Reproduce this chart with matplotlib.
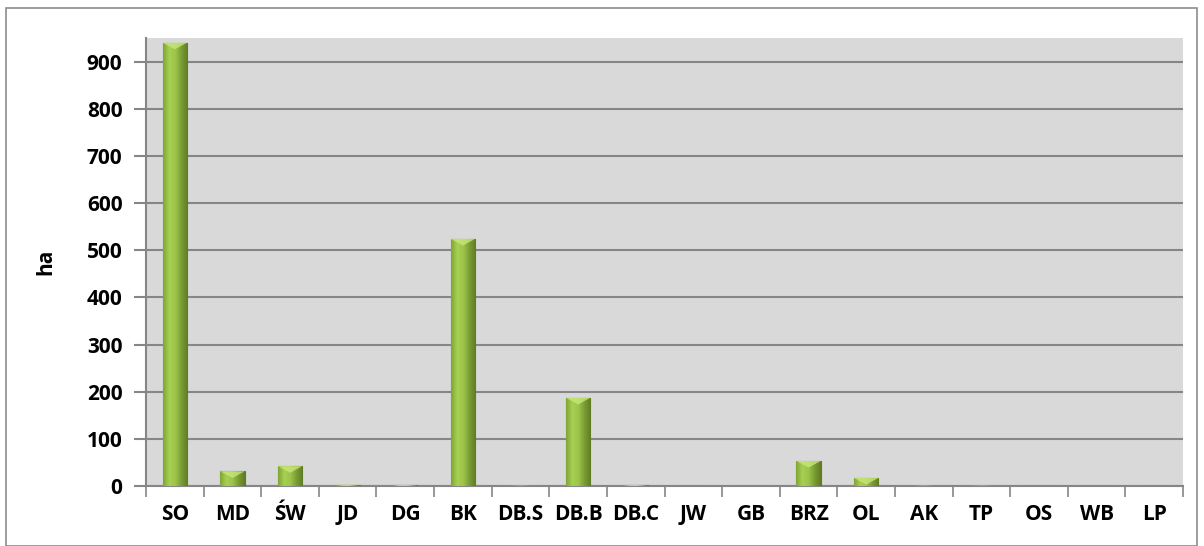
import numpy as np
import matplotlib.pyplot as plt
from matplotlib.colors import LinearSegmentedColormap
from matplotlib.patches import Rectangle

categories = ["SO", "MD", "ŚW", "JD", "DG", "BK", "DB.S", "DB.B", "DB.C",
              "JW", "GB", "BRZ", "OL", "AK", "TP", "OS", "WB", "LP"]
values = [940, 31, 42, 3, 2, 524, 1, 187, 2, 0, 0, 53, 17, 1, 1, 0, 0, 0]
y_ticks = [0, 100, 200, 300, 400, 500, 600, 700, 800, 900]

plt.rcParams['font.family'] = ['Open Sans', 'DejaVu Sans']
plt.rcParams['font.weight'] = 'bold'

fig = plt.figure(figsize=(12.04, 5.46), dpi=100)
fig.patches.append(Rectangle((0.005, 0.0), 0.989, 0.985, transform=fig.transFigure,
                             fill=False, edgecolor='#8c8c8c', linewidth=1.2))
ax = fig.add_axes([0.1213, 0.1099, 0.8613, 0.8205])
ax.set_facecolor('#d9d9d9')

x = np.arange(len(categories))
width = 0.42
bars = ax.bar(x, values, width=width, color='#8db43c', edgecolor='#5e7a26',
              linewidth=0.8, zorder=3)

# horizontal shading across each bar
cmap = LinearSegmentedColormap.from_list(
    'bar', ['#7fa535', '#a8d052', '#9cc44a', '#7a9c33', '#5f7d26'])
grad = np.linspace(0, 1, 64).reshape(1, -1)
for b, v in zip(bars, values):
    if v <= 0:
        continue
    x0 = b.get_x()
    im = ax.imshow(grad, cmap=cmap, aspect='auto', zorder=3.5,
                   extent=(x0, x0 + width, 0, v))
    im.set_clip_path(b)
    # lighter bevel at the top
    tri_h = min(v, 14)
    ax.fill([x0, x0 + width, x0 + width / 2], [v, v, v - tri_h],
            color='#c8e67a', alpha=0.8, zorder=4, linewidth=0)

ax.set_xlim(-0.5, len(categories) - 0.5)
ax.set_ylim(0, 950)
ax.set_yticks(y_ticks)
ax.set_xticks(x)
ax.set_xticklabels(categories)
ax.set_xticks(np.arange(-0.5, len(categories)), minor=True)

ax.yaxis.grid(True, color='#868686', linewidth=1.5, zorder=1)
ax.set_axisbelow(True)
for s in ['top', 'right']:
    ax.spines[s].set_visible(False)
for s in ['left', 'bottom']:
    ax.spines[s].set_color('#868686')
    ax.spines[s].set_linewidth(1.5)

for lbl in ax.get_xticklabels() + ax.get_yticklabels():
    lbl.set_fontweight('bold')
ax.tick_params(axis='y', length=9, width=1.5, color='#868686',
               labelsize=15, pad=8)
ax.tick_params(axis='x', which='major', length=0, labelsize=15, pad=13)
ax.tick_params(axis='x', which='minor', length=8, width=1.2, color='#868686')
ax.set_ylabel('ha', fontsize=15, fontweight='bold', labelpad=22)

fig.savefig('out.png', dpi=100)
